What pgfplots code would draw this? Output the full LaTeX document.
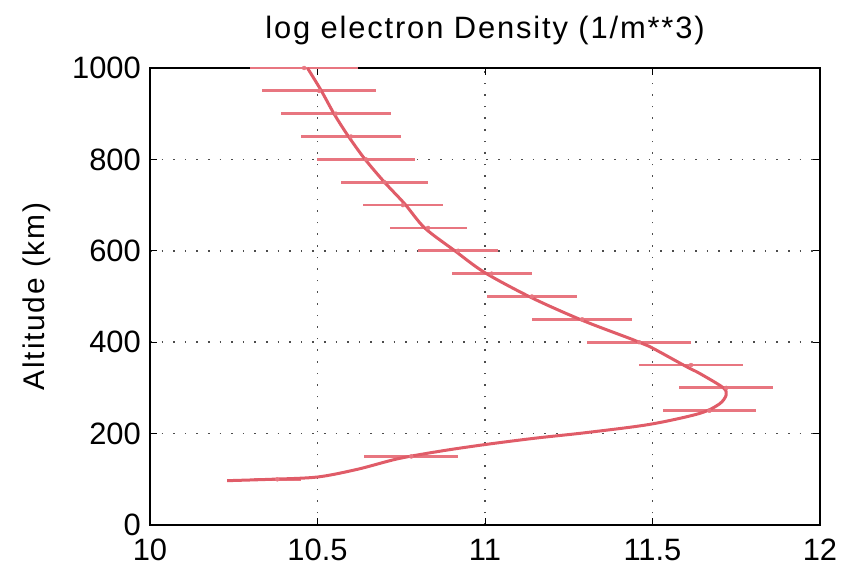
\documentclass[border=0pt]{standalone}
\usepackage{fontspec}
\setmainfont{Liberation Sans}
\newfontfamily\widesans[LetterSpace=6]{Liberation Sans}
\usepackage{pgfplots}
\usepackage{pgfplotstable}
\pgfplotsset{compat=1.18}

\definecolor{curvecol}{RGB}{224,92,104}
\definecolor{barcol}{RGB}{232,118,128}

% altitude (km), log density, half width of the bar
\pgfplotstableread{
y     x      e
100   10.38  0.07
150   10.78  0.14
250   11.67  0.14
300   11.72  0.14
350   11.615 0.155
400   11.46  0.155
450   11.29  0.15
500   11.14  0.135
550   11.02  0.12
600   10.92  0.12
650   10.83  0.115
700   10.755 0.12
750   10.70  0.13
800   10.645 0.145
850   10.60  0.15
900   10.555 0.165
950   10.505 0.17
1000  10.46  0.16
}\bars

% fitted profile
\pgfplotstableread{
x      y
10.23  97
10.36  100
10.50  105
10.62  122
10.74  145
10.87  162
11.00  176
11.15  190
11.30  202
11.49  220
11.64  244
11.70  265
11.72  285
11.71  301
11.64  332
11.60  347
11.49  391
11.44  406
11.29  448
11.14  497
11.00  552
10.91  600
10.82  650
10.76  703
10.70  750
10.64  802
10.59  853
10.55  899
10.51  952
10.47  1000
}\curve

\begin{document}
\begin{tikzpicture}
\begin{axis}[
    name=ax,
    scale only axis,
    width=670bp, height=457bp,
    xmin=10, xmax=12,
    ymin=0, ymax=1000,
    xtick={10,10.5,11,11.5,12},
    ytick={0,200,400,600,800,1000},
    /pgf/number format/assume math mode=true,
    /pgf/number format/1000 sep={},
    ticklabel style={font=\fontsize{31}{31}\selectfont},
    xticklabel style={inner sep=0pt, yshift=-14bp},
    yticklabel style={inner sep=0pt, xshift=-9bp},
    tick align=inside,
    major tick length=7bp,
    tick style={black, line width=1bp},
    axis line style={black, line width=2.2bp},
    grid=major,
    major grid style={black!70, line width=1.6bp, dash pattern=on 1.6bp off 10bp},
    title={\widesans log electron Density (1/m**3)},
    title style={font=\fontsize{31}{31}\selectfont, inner sep=0pt, yshift=17bp},
    ylabel={\widesans Altitude (km)},
    ylabel style={font=\fontsize{30}{30}\selectfont, inner sep=0pt,
        at={(axis description cs:-0.148,0.5)}, anchor=south},
    clip=false,
]
\addplot[only marks, mark=none, barcol,
    error bars/.cd, x dir=both, x explicit, error mark=none,
    error bar style={line width=2.8bp, barcol}]
    table[x=x, y=y, x error=e] {\bars};
\addplot[curvecol, line width=3bp, smooth, tension=0.5] table[x=x, y=y] {\curve};
\end{axis}
\path (ax.south west) ++(-150bp,-44bp);
\path (ax.north east) ++(23bp,68bp);
\end{tikzpicture}
\end{document}
